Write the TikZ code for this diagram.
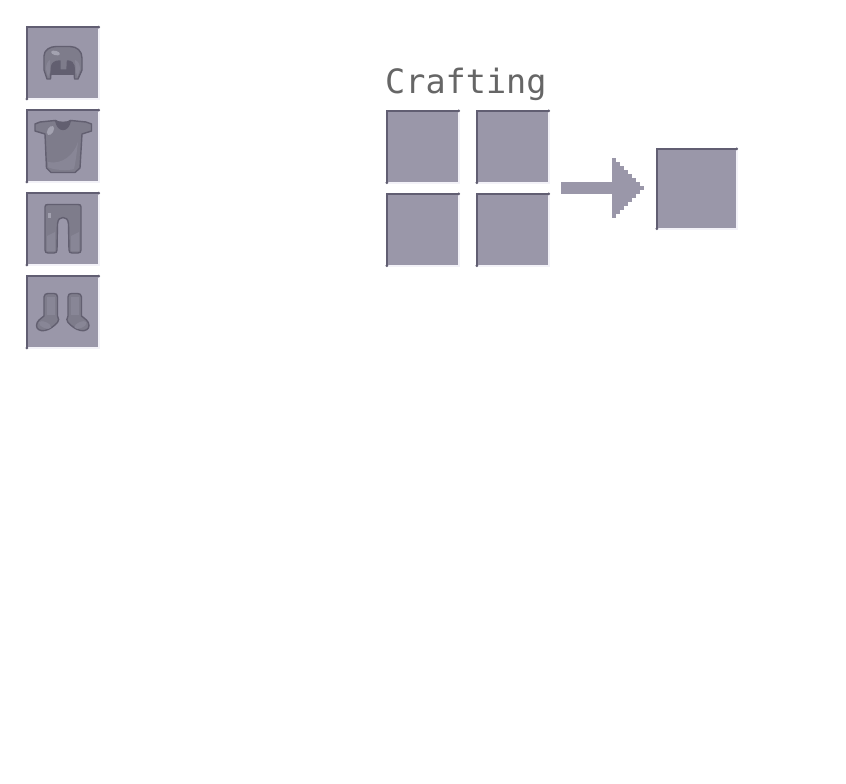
\documentclass[tikz,border=0pt]{standalone}
\usepackage{fontspec}
\setmonofont{DejaVu Sans Mono}
\usetikzlibrary{calc}

\definecolor{slotfill}{HTML}{9A97A9}
\definecolor{edgedark}{HTML}{615E72}
\definecolor{edgelight}{HTML}{F3F2F8}
\definecolor{gearbody}{HTML}{7E7C8B}
\definecolor{gearline}{HTML}{625F70}
\definecolor{gearlight}{HTML}{888696}
\definecolor{gearshine}{HTML}{A3A2B0}
\definecolor{titlegray}{HTML}{666666}

\newcommand{\bootshape}{
  \draw[gear] (44,297) .. controls (44,294.5) and (46,293.5) .. (48,293.5) -- (54,293.5)
    .. controls (56,293.5) and (57.5,294.5) .. (57.5,297) -- (57.5,316)
    .. controls (59,318) and (59,321) .. (57.5,322.5) .. controls (54,326) and (50,329.5) .. (45,330.5)
    .. controls (40,331.5) and (36.5,329) .. (36.5,325.5) .. controls (36.5,321) and (41,318.5) .. (44,316) -- cycle;
  \fill[gearlight] (47,297) rectangle (54.5,315);
  \fill[gearlight, rotate around={-24:(45,325)}] (45,325) ellipse (6.5pt and 3pt);
}

\begin{document}
\begin{tikzpicture}[
  x=1pt, y=-1pt,
  slot/.style={fill=slotfill, minimum size=71.5pt, inner sep=0pt},
  edgeD/.style={edgedark, line width=2.4pt},
  edgeL/.style={edgelight, line width=2pt},
  gear/.style={fill=gearbody, draw=gearline, line width=1.4pt, line join=round},
  shine/.style={fill=gearshine}
]

\fill[white] (0,0) rectangle (846,784);
\useasboundingbox (0,0) rectangle (846,784);

%================================================
% SLOTS
%================================================
\foreach \n/\x/\y in {slotHead/62.75/63, slotBody/62.75/146, slotLegs/62.75/229, slotFeet/62.75/312,
                      craftA/422.75/146.75, craftB/512.75/146.75, craftC/422.75/229.75, craftD/512.75/229.75}
  \node[slot] (\n) at (\x,\y) {};
\node[slot, minimum size=79.5pt] (result) at (696.75,188.75) {};

\foreach \n in {slotHead,slotBody,slotLegs,slotFeet,craftA,craftB,craftC,craftD,result}{
  \draw[edgeL] (\n.south west) -- (\n.south east) -- (\n.north east);
  \draw[edgeD] (\n.south west) -- (\n.north west) -- (\n.north east);
  \fill[edgedark] (\n.north east) circle (1.5pt);
  \fill[edgedark] (\n.south west) circle (1.5pt);
}

% title
\node[anchor=base west, inner sep=0pt, text=titlegray, font=\ttfamily\fontsize{33.5}{33.5}\selectfont] (title) at (385,93) {Crafting};

%================================================
% ARROW
%================================================
\coordinate (arrowS) at (561,188);
\coordinate (arrowE) at (613,188);
\draw[slotfill, line width=12pt] (arrowS) -- (arrowE);
\foreach \i in {0,...,7}
  \fill[slotfill] ($(arrowE)+(4*\i-1,-30+4*\i)$) rectangle ($(arrowE)+(4*\i+3.2,30-4*\i)$);

%================================================
% HELMET
%================================================
\fill[gearline] (51,75) -- (51,61) -- (74,61) -- (74,75) -- cycle;
\draw[gear] (47,79) -- (44,70) -- (44,56) .. controls (44,50) and (50,46.5) .. (56,46.5) -- (70,46.5)
  .. controls (77,46.5) and (82,51) .. (82,58) -- (82,70) -- (78,79) -- (74.5,79) -- (74,66)
  .. controls (73.5,63) and (71,61) .. (67.5,61) -- (67,70) -- (60,70) -- (60,61)
  .. controls (55,61) and (52,63) .. (51.5,67) -- (50.5,79) -- cycle;
\fill[gearlight] (46,69) .. controls (46,64) and (48,61) .. (50,60) -- (50,72) -- (48,77) -- cycle;
\fill[gearlight] (80,69) .. controls (80,64) and (78,61) .. (75,60) -- (76,72) -- (77.5,77) -- cycle;
\fill[shine, rotate around={-15:(55.5,53)}] (55.5,53) ellipse (4.5pt and 2.2pt);

%================================================
% SHIRT
%================================================
\draw[gear] (35,124) -- (40,122) -- (55,120.5) .. controls (58,123) and (68,123) .. (71,120.5) -- (86,122) -- (91.5,124)
  -- (91.5,131) -- (82,134) -- (80,168) -- (75,172.5) -- (51,172.5) -- (46.5,168) -- (45,134) -- (35,131) -- cycle;
\fill[gearlight] (48,167) .. controls (52,170) and (68,171) .. (74,169) .. controls (76,160) and (77,150) .. (78,142) .. controls (74,155) and (62,165) .. (48,162) -- cycle;
\draw[gear, fill=gearline] (55.5,120.5) .. controls (57,127) and (60,129.5) .. (63,129.5)
  .. controls (66,129.5) and (69,127) .. (70.5,120.5) .. controls (68,124) and (58,124) .. (55.5,120.5) -- cycle;
\fill[shine, rotate around={60:(50.5,130.5)}] (50.5,130.5) ellipse (5pt and 3pt);

%================================================
% PANTS
%================================================
\draw[gear] (45,207) .. controls (45,205) and (46,204.5) .. (48,204.5) -- (78,204.5)
  .. controls (80,204.5) and (81,205) .. (81,207) -- (81,250) .. controls (81,252) and (80,253) .. (78,253)
  -- (72,253) .. controls (70,253) and (69,252) .. (69,250) -- (68.5,224)
  .. controls (68,219) and (66,217.5) .. (63,217.5) .. controls (60,217.5) and (58,219) .. (57.5,224)
  -- (57,250) .. controls (57,252) and (56,253) .. (54,253) -- (48,253)
  .. controls (46,253) and (45,252) .. (45,250) -- cycle;
\fill[gearlight] (47,236) -- (55,232) -- (55,251) -- (47,251) -- cycle;
\fill[gearlight] (71,236) -- (79,232) -- (79,251) -- (71,251) -- cycle;
\fill[shine] (48,213) rectangle (51,218);

%================================================
% BOOTS
%================================================
\bootshape
\begin{scope}[shift={(125.5,0)}, xscale=-1]
  \bootshape
\end{scope}

\end{tikzpicture}
\end{document}
